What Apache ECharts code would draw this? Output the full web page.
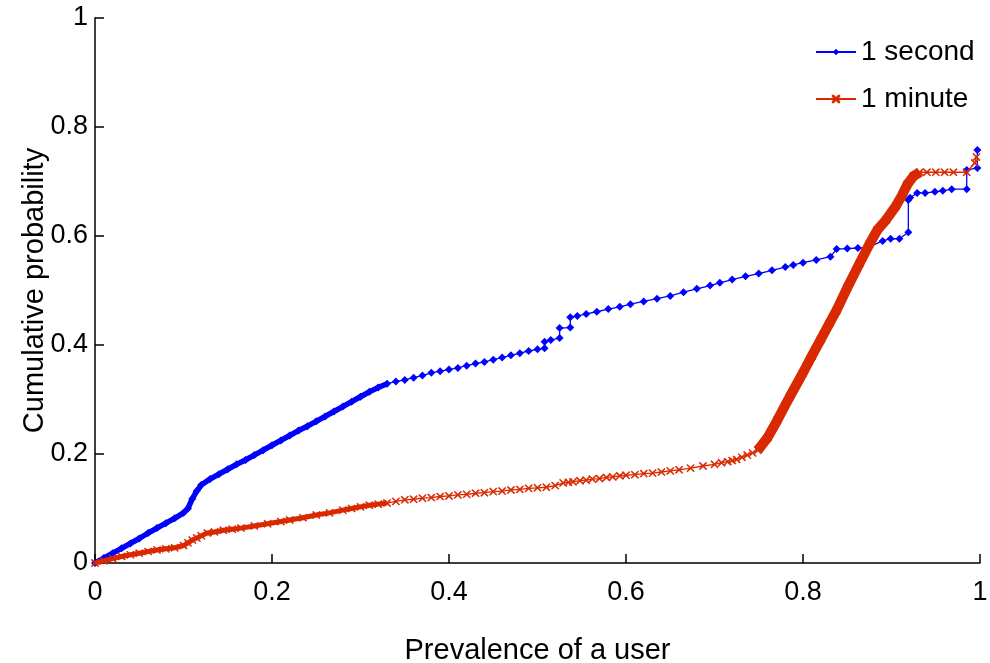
<!DOCTYPE html>
<html>
  <head>
    <meta charset="utf-8">
    <title>Prevalence CDF</title>
    <style>
      html, body { margin: 0; padding: 0; background: #fff; }
      #chart { width: 990px; height: 663px; }
    </style>
  </head>
  <body>
    <div id="chart"></div>
    <script src="https://cdn.jsdelivr.net/npm/echarts@6/dist/echarts.min.js"></script>
    <script>
      // Data
      var secondX = [0, 0.01, 0.02, 0.03, 0.04, 0.05, 0.06, 0.07, 0.08, 0.09, 0.1, 0.105, 0.11, 0.115, 0.12,
        0.13, 0.14, 0.15, 0.16, 0.17, 0.18, 0.19, 0.2, 0.21, 0.22, 0.23, 0.24, 0.25, 0.26, 0.27, 0.28, 0.29,
        0.3, 0.31, 0.32, 0.33,
        0.34, 0.35, 0.36, 0.37, 0.38, 0.39, 0.4, 0.41, 0.42, 0.43, 0.44, 0.45, 0.46, 0.47, 0.48, 0.49, 0.5,
        0.508, 0.508, 0.515, 0.525, 0.525, 0.537, 0.537, 0.545, 0.555, 0.567, 0.58, 0.593, 0.605, 0.62, 0.635,
        0.65, 0.665, 0.68, 0.695, 0.706, 0.72, 0.735, 0.75, 0.765, 0.78, 0.789, 0.8, 0.815, 0.831, 0.838, 0.85,
        0.862, 0.872, 0.89, 0.899, 0.909, 0.919, 0.919, 0.921, 0.929, 0.938, 0.949, 0.958, 0.968, 0.985, 0.985,
        0.997, 0.997];
      var secondY = [0, 0.009, 0.018, 0.027, 0.036, 0.045, 0.055, 0.064, 0.073, 0.082, 0.092, 0.1, 0.118, 0.132, 0.143,
        0.154, 0.163, 0.172, 0.181, 0.189, 0.198, 0.207, 0.216, 0.225, 0.234, 0.243, 0.251, 0.26, 0.269, 0.278, 0.287, 0.296,
        0.305, 0.314, 0.322, 0.329,
        0.333, 0.336, 0.34, 0.344, 0.349, 0.352, 0.355, 0.358, 0.362, 0.366, 0.369, 0.373, 0.377, 0.381, 0.385, 0.389, 0.392,
        0.394, 0.406, 0.409, 0.413, 0.431, 0.432, 0.451, 0.453, 0.457, 0.461, 0.466, 0.47, 0.475, 0.48, 0.485,
        0.49, 0.497, 0.503, 0.509, 0.514, 0.52, 0.526, 0.531, 0.537, 0.543, 0.547, 0.551, 0.556, 0.562, 0.576, 0.577,
        0.578, 0.578, 0.591, 0.595, 0.595, 0.607, 0.666, 0.67, 0.679, 0.679, 0.681, 0.683, 0.686, 0.686, 0.721,
        0.725, 0.758];

      var minuteX = [0, 0.01, 0.02, 0.03, 0.04, 0.05, 0.06, 0.07, 0.08, 0.09, 0.1, 0.105, 0.11, 0.115, 0.12, 0.127,
        0.135, 0.145, 0.155, 0.165, 0.18, 0.195, 0.21, 0.22, 0.235, 0.25, 0.265, 0.28, 0.29, 0.3, 0.31, 0.32, 0.33,
        0.34, 0.35, 0.36, 0.37, 0.38, 0.39, 0.4, 0.41, 0.42, 0.43, 0.44, 0.45, 0.46, 0.47, 0.48, 0.49, 0.5, 0.51,
        0.52, 0.529, 0.535, 0.54, 0.548, 0.555, 0.562, 0.57, 0.578, 0.585, 0.593, 0.6, 0.61, 0.62, 0.63,
        0.64, 0.65, 0.66, 0.673, 0.687, 0.7, 0.708, 0.715, 0.72, 0.725, 0.731, 0.737, 0.743, 0.749,
        0.76, 0.771, 0.785, 0.8, 0.81, 0.82, 0.83, 0.838, 0.85, 0.864, 0.875, 0.884, 0.894, 0.905, 0.912, 0.918,
        0.925, 0.932,
        0.94, 0.95, 0.96, 0.97, 0.985, 0.994, 0.996];
      var minuteY = [0, 0.004, 0.008, 0.012, 0.015, 0.018, 0.021, 0.024, 0.026, 0.028, 0.032, 0.037, 0.042, 0.046, 0.05, 0.055,
        0.057, 0.06, 0.062, 0.064, 0.068, 0.072, 0.076, 0.079, 0.083, 0.088, 0.092, 0.097, 0.1, 0.103, 0.106, 0.108, 0.11,
        0.113, 0.116, 0.117, 0.119, 0.12, 0.122, 0.123, 0.125, 0.126, 0.128, 0.129, 0.131, 0.132, 0.134, 0.135, 0.137, 0.138, 0.139,
        0.142, 0.147, 0.148, 0.149, 0.151, 0.152, 0.154, 0.155, 0.157, 0.158, 0.16, 0.161, 0.162, 0.164, 0.165,
        0.167, 0.169, 0.171, 0.174, 0.178, 0.181, 0.184, 0.186, 0.188, 0.19, 0.194, 0.198, 0.202, 0.207,
        0.23, 0.262, 0.305, 0.349, 0.38, 0.41, 0.44, 0.464, 0.505, 0.55, 0.585, 0.611, 0.63, 0.655, 0.675, 0.695,
        0.71, 0.717,
        0.717, 0.717, 0.717, 0.717, 0.717, 0.734, 0.745];

      var seriesNames = ['1 second', '1 minute'];
      var blue = '#0000ff';
      var red = '#d92900';
      var crossPath = 'path://M0,0L1,0L10,9L10,10L9,10L0,1Z M9,0L10,0L10,1L1,10L0,10L0,9Z';

      function pairs(xs, ys, from, to) {
        var out = [];
        for (var i = from; i < to; i++) {
          out.push([xs[i], ys[i]]);
        }
        return out;
      }

      var secondData = pairs(secondX, secondY, 0, secondX.length);
      var minuteData = pairs(minuteX, minuteY, 0, minuteX.length);
      // dense stretches where the markers merge into a thick band
      var secondDense = pairs(secondX, secondY, 0, secondX.indexOf(0.33) + 1);
      var minuteDense1 = pairs(minuteX, minuteY, 0, minuteX.indexOf(0.33) + 1);
      var minuteDense2 = pairs(minuteX, minuteY, minuteX.indexOf(0.749), minuteX.indexOf(0.932) + 1);

      var font = 'Liberation Sans';
      var chart = echarts.init(document.getElementById('chart'));
      chart.setOption({
        animation: false,
        textStyle: { fontFamily: font },
        grid: { left: 95, right: 10, top: 18, bottom: 100, containLabel: false, outerBoundsMode: 'none' },
        legend: {
          data: seriesNames,
          orient: 'vertical',
          left: 810,
          top: 33,
          itemWidth: 40,
          itemHeight: 8,
          itemGap: 19,
          textStyle: { fontSize: 28, color: '#000', fontFamily: font }
        },
        xAxis: {
          type: 'value',
          min: 0, max: 1, interval: 0.2,
          name: 'Prevalence of a user',
          nameLocation: 'middle',
          nameGap: 73,
          nameTextStyle: { fontSize: 29, color: '#000', fontFamily: font },
          axisLine: { show: true, onZero: false, lineStyle: { color: '#000', width: 1.5 } },
          axisTick: { show: true, inside: true, length: 9, lineStyle: { color: '#000', width: 1.5 } },
          axisLabel: { fontSize: 27, color: '#000', margin: 16, fontFamily: font },
          splitLine: { show: false }
        },
        yAxis: {
          type: 'value',
          min: 0, max: 1, interval: 0.2,
          name: 'Cumulative probability',
          nameLocation: 'middle',
          nameGap: 46,
          nameMoveOverlap: false,
          nameRotate: 90,
          nameTextStyle: { fontSize: 29, color: '#000', fontFamily: font },
          axisLine: { show: true, onZero: false, lineStyle: { color: '#000', width: 1.5 } },
          axisTick: { show: true, inside: true, length: 9, lineStyle: { color: '#000', width: 1.5 } },
          axisLabel: { fontSize: 27, color: '#000', margin: 7, fontFamily: font },
          splitLine: { show: false }
        },
        series: [
          {
            name: '1 second',
            type: 'line',
            data: secondData,
            symbol: 'diamond',
            symbolSize: 8,
            showAllSymbol: true,
            itemStyle: { color: blue },
            lineStyle: { color: blue, width: 1.3 },
            z: 3
          },
          {
            name: '1 minute',
            type: 'line',
            data: minuteData,
            symbol: crossPath,
            symbolSize: 7,
            showAllSymbol: true,
            itemStyle: { color: red, borderColor: red, borderWidth: 0.8 },
            lineStyle: { color: red, width: 1.3 },
            z: 4
          },
          {
            name: 'second-band',
            type: 'line',
            data: secondDense,
            symbol: 'none',
            silent: true,
            lineStyle: { color: blue, width: 5.5 },
            z: 3
          },
          {
            name: 'minute-band-1',
            type: 'line',
            data: minuteDense1,
            symbol: 'none',
            silent: true,
            lineStyle: { color: red, width: 5 },
            z: 4
          },
          {
            name: 'minute-band-2',
            type: 'line',
            data: minuteDense2,
            symbol: 'none',
            silent: true,
            lineStyle: { color: red, width: 10 },
            z: 4
          }
        ]
      });
    </script>
  </body>
</html>
